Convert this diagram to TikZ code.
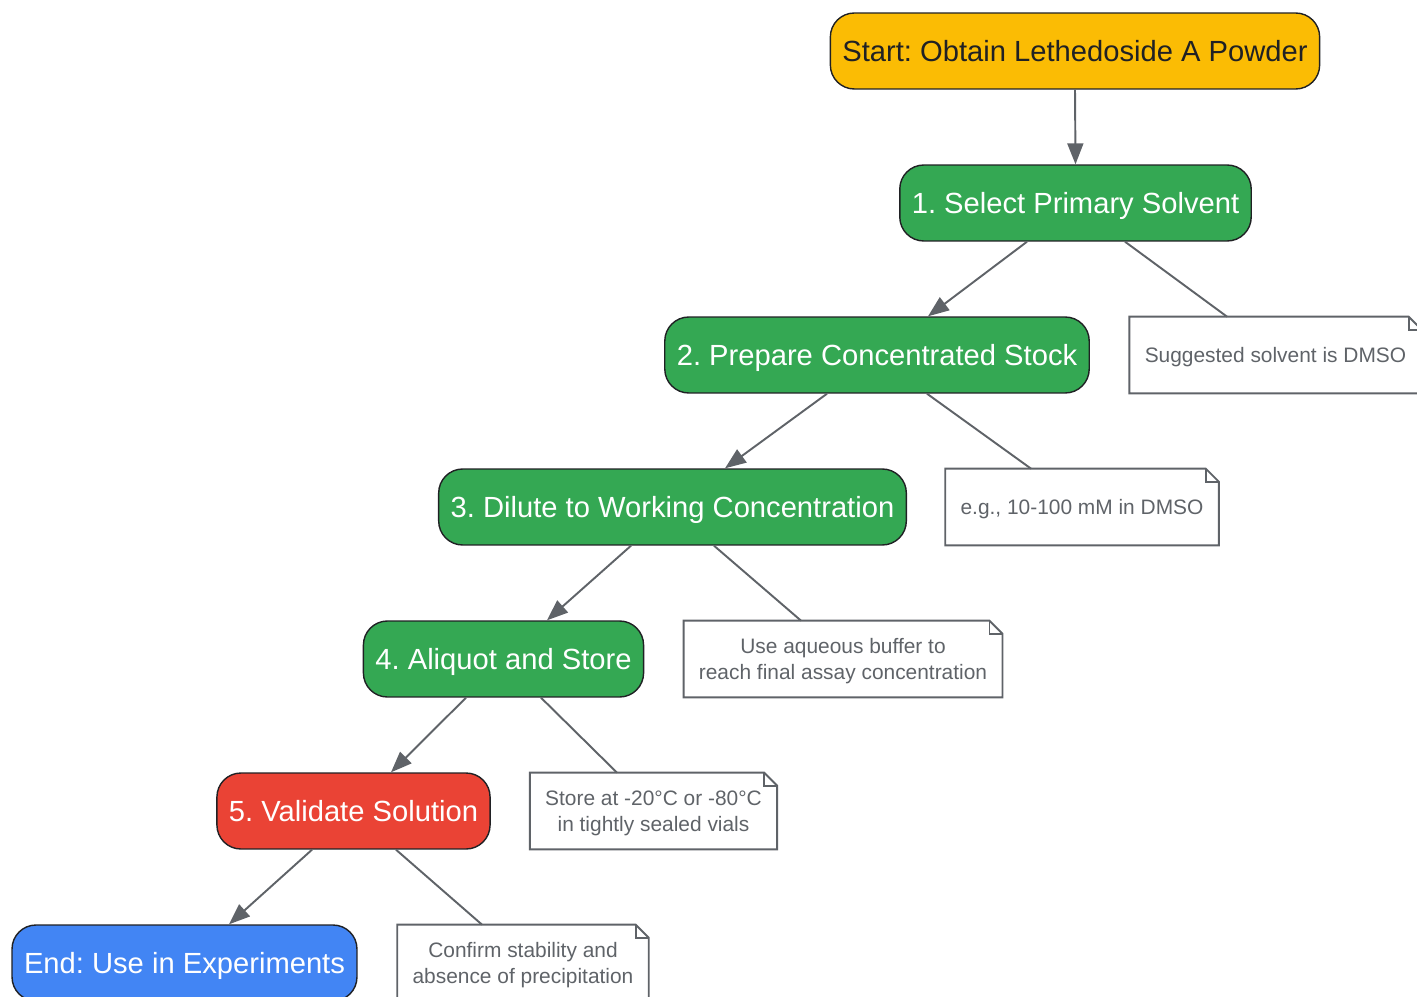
\documentclass[tikz,border=0pt]{standalone}
\usepackage{fontspec}
\setmainfont{Liberation Sans}
\usetikzlibrary{arrows.meta, positioning}
\definecolor{startyellow}{HTML}{FBBC04}
\definecolor{stepgreen}{HTML}{34A853}
\definecolor{checkred}{HTML}{EA4335}
\definecolor{endblue}{HTML}{4285F4}
\definecolor{edgedark}{HTML}{202124}
\definecolor{linegray}{HTML}{5F6368}
\frenchspacing

\begin{document}
\begin{tikzpicture}[
    x=0.02cm, y=-0.02cm,
    stepbox/.style = {draw=edgedark, line width=0.8pt, rounded corners=0.48cm, minimum height=1.52cm, inner xsep=0.24cm, text depth=0pt, font=\fontsize{16.6}{20}\selectfont, text=white},
    notebox/.style = {minimum height=1.52cm, inner xsep=0.3cm, align=center, text depth=0pt, font=\fontsize{11.9}{14.8}\selectfont, text=linegray},
    arrow/.style = {line width=1.1pt, draw=linegray, -{Triangle[length=0.42cm, width=0.32cm]}},
    link/.style = {line width=1.1pt, draw=linegray}
]

\useasboundingbox (0,0) rectangle (1417,997);
\clip (0,0) rectangle (1417,997);

% Main steps, placed down the diagonal
\node[stepbox, fill=startyellow, text=edgedark] (start) at (1075,51) {Start: Obtain Lethedoside A Powder};
\node[stepbox, fill=stepgreen] (solvent) at (1075.5,203) {1. Select Primary Solvent};
\node[stepbox, fill=stepgreen] (stock) at (877,355) {2. Prepare Concentrated Stock};
\node[stepbox, fill=stepgreen] (dilute) at (672.5,507) {3. Dilute to Working Concentration};
\node[stepbox, fill=stepgreen] (aliquot) at (503.5,659) {4. Aliquot and Store};
\node[stepbox, fill=checkred] (validate) at (353.5,811) {5. Validate Solution};
\node[stepbox, fill=endblue] (finish) at (184.5,963) {End: Use in Experiments};

% Notes beside each step
\node[notebox] (noteA) at (1275.5,355) {Suggested solvent is DMSO};
\node[notebox] (noteB) at (1082,507) {e.g., 10-100 mM in DMSO};
\node[notebox] (noteC) at (843,659) {Use aqueous buffer to\\reach final assay concentration};
\node[notebox] (noteD) at (653.5,811) {Store at -20°C or -80°C\\in tightly sealed vials};
\node[notebox] (noteE) at (523,963) {Confirm stability and\\absence of precipitation};

% Folded-corner outlines of the notes
\foreach \n in {noteA, noteB, noteC, noteD, noteE} {
  \draw[link] (\n.south west) -- (\n.north west) -- ([xshift=-0.26cm]\n.north east)
    -- ([yshift=-0.26cm]\n.north east) -- (\n.south east) -- cycle;
  \draw[link] ([xshift=-0.26cm]\n.north east) |- ([yshift=-0.26cm]\n.north east);
}

% Arrows between steps
\draw[arrow] (start.south) -- (solvent.north);
\draw[arrow] ([xshift=-0.97cm]solvent.south) -- ([xshift=1.02cm]stock.north);
\draw[arrow] ([xshift=-1cm]stock.south) -- ([xshift=1.05cm]dilute.north);
\draw[arrow] ([xshift=-0.83cm]dilute.south) -- ([xshift=0.87cm]aliquot.north);
\draw[arrow] ([xshift=-0.75cm]aliquot.south) -- ([xshift=0.75cm]validate.north);
\draw[arrow] ([xshift=-0.83cm]validate.south) -- ([xshift=0.89cm]finish.north);

% Plain lines to the notes
\draw[link] ([xshift=0.99cm]solvent.south) -- ([xshift=-0.97cm]noteA.north);
\draw[link] ([xshift=1cm]stock.south) -- ([xshift=-1.02cm]noteB.north);
\draw[link] ([xshift=0.83cm]dilute.south) -- ([xshift=-0.84cm]noteC.north);
\draw[link] ([xshift=0.75cm]aliquot.south) -- ([xshift=-0.73cm]noteD.north);
\draw[link] ([xshift=0.85cm]validate.south) -- ([xshift=-0.82cm]noteE.north);

\end{tikzpicture}
\end{document}
